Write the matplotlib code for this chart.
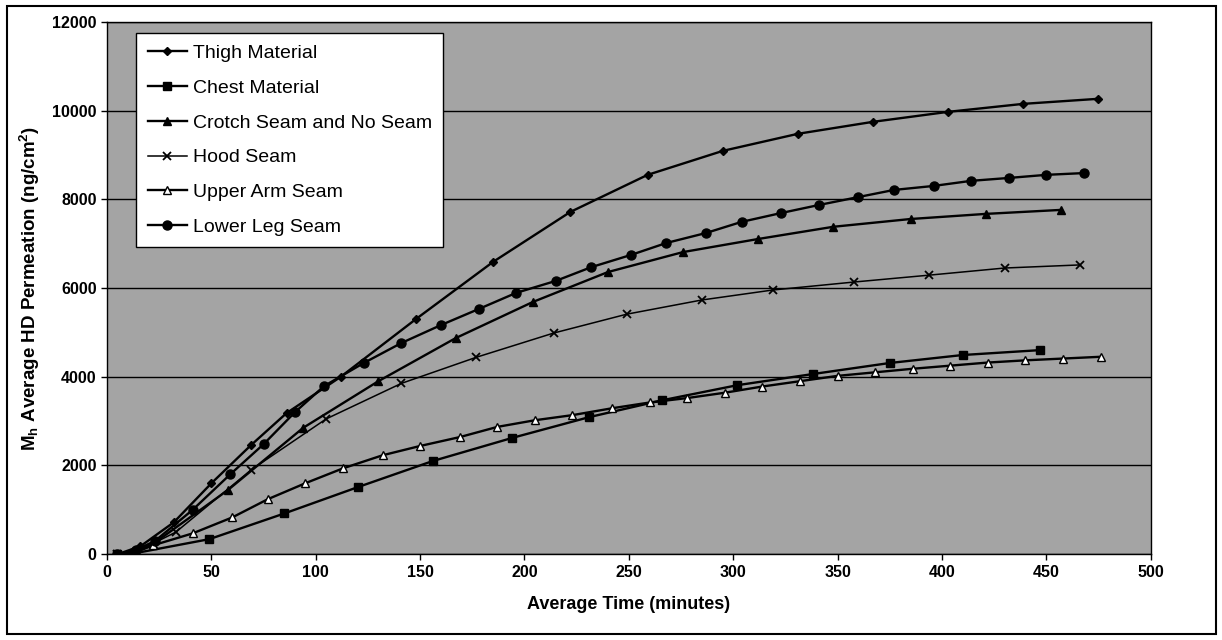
import matplotlib.pyplot as plt
from matplotlib.patches import Rectangle

plt.rcParams['font.family'] = ['Liberation Sans', 'DejaVu Sans']
plt.rcParams['mathtext.fontset'] = 'custom'
plt.rcParams['mathtext.rm'] = 'Liberation Sans:bold'
plt.rcParams['mathtext.bf'] = 'Liberation Sans:bold'
plt.rcParams['mathtext.default'] = 'bf'

# values
thigh_t = [5, 16, 32, 50, 69, 86, 112, 148, 185, 222, 259, 295, 331, 367, 403, 439, 475]
thigh_v = [0, 180, 720, 1600, 2460, 3180, 4000, 5300, 6590, 7715, 8550, 9090, 9475, 9745, 9970, 10150, 10264]

chest_t = [5, 13, 49, 85, 120, 156, 194, 231, 266, 302, 338, 375, 410, 447]
chest_v = [0, 20, 340, 920, 1510, 2100, 2620, 3090, 3470, 3810, 4060, 4310, 4490, 4600]

crotch_t = [5, 13, 22, 58, 94, 130, 167, 204, 240, 276, 312, 348, 385, 421, 457]
crotch_v = [0, 40, 230, 1450, 2850, 3900, 4870, 5685, 6360, 6810, 7105, 7380, 7555, 7670, 7760]

hood_t = [5, 14, 33, 69, 105, 141, 177, 214, 249, 285, 319, 358, 394, 430, 466]
hood_v = [0, 50, 500, 1900, 3050, 3850, 4440, 4985, 5410, 5730, 5955, 6135, 6290, 6450, 6520]

arm_t = [5, 13, 22, 41, 60, 77, 95, 113, 132, 150, 169, 187, 205, 223, 242, 260,
         278, 296, 314, 332, 350, 368, 386, 404, 422, 440, 458, 476]
arm_v = [0, 30, 200, 470, 830, 1240, 1600, 1935, 2230, 2440, 2640, 2870, 3020, 3135, 3290, 3420,
         3520, 3640, 3780, 3900, 4020, 4100, 4180, 4250, 4320, 4370, 4410, 4450]

leg_t = [5, 14, 23, 41, 59, 75, 90, 104, 123, 141, 160, 178, 196, 215, 232, 251, 268,
         287, 304, 323, 341, 360, 377, 396, 414, 432, 450, 468]
leg_v = [0, 100, 300, 1000, 1800, 2480, 3200, 3790, 4310, 4760, 5165, 5525, 5890, 6160, 6470, 6745, 7015,
         7240, 7490, 7690, 7870, 8050, 8210, 8300, 8415, 8480, 8550, 8590]

fig = plt.figure(figsize=(12.22, 6.4), dpi=100)
ax = fig.add_axes([0.0876, 0.134, 0.854, 0.832])
ax.set_facecolor('#a4a4a4')

ax.plot(thigh_t, thigh_v, color='black', lw=1.7, marker='D', ms=4.5, label='Thigh Material')
ax.plot(chest_t, chest_v, color='black', lw=1.7, marker='s', ms=5.5, label='Chest Material')
ax.plot(crotch_t, crotch_v, color='black', lw=1.7, marker='^', ms=6, label='Crotch Seam and No Seam')
ax.plot(hood_t, hood_v, color='black', lw=1.1, marker='x', ms=6, mew=1.3, label='Hood Seam')
ax.plot(arm_t, arm_v, color='black', lw=1.7, marker='^', ms=6, mfc='white', mec='black', label='Upper Arm Seam')
ax.plot(leg_t, leg_v, color='black', lw=1.7, marker='o', ms=6.5, label='Lower Leg Seam')

ax.set_xlim(0, 500)
ax.set_ylim(0, 12000)
ax.set_xticks(range(0, 501, 50))
ax.set_yticks(range(0, 12001, 2000))
ax.yaxis.grid(True, color='black', lw=1.0)
ax.set_axisbelow(True)
ax.tick_params(direction='out', length=4, width=1, labelsize=11.5)
for lab in ax.get_xticklabels() + ax.get_yticklabels():
    lab.set_fontweight('bold')
for sp in ax.spines.values():
    sp.set_linewidth(1.0)
    sp.set_color('black')

ax.set_xlabel('Average Time (minutes)', fontsize=13, fontweight='bold', labelpad=12)
ax.set_ylabel(r'M$_h$ Average HD Permeation (ng/cm$^2$)', fontsize=13.5, fontweight='bold')
ax.yaxis.set_label_coords(-0.062, 0.5)

leg = ax.legend(loc='upper left', bbox_to_anchor=(0.028, 0.979), borderaxespad=0, fontsize=14,
                frameon=True, fancybox=False, edgecolor='black', facecolor='white', framealpha=1,
                handlelength=2.0, handletextpad=0.3, labelspacing=0.88, borderpad=0.6)
leg.get_frame().set_linewidth(1.0)

fig.patches.append(Rectangle((0.006, 0.01), 0.989, 0.98, transform=fig.transFigure,
                             fill=False, edgecolor='black', lw=1.5))

fig.savefig('out.png', dpi=100)
